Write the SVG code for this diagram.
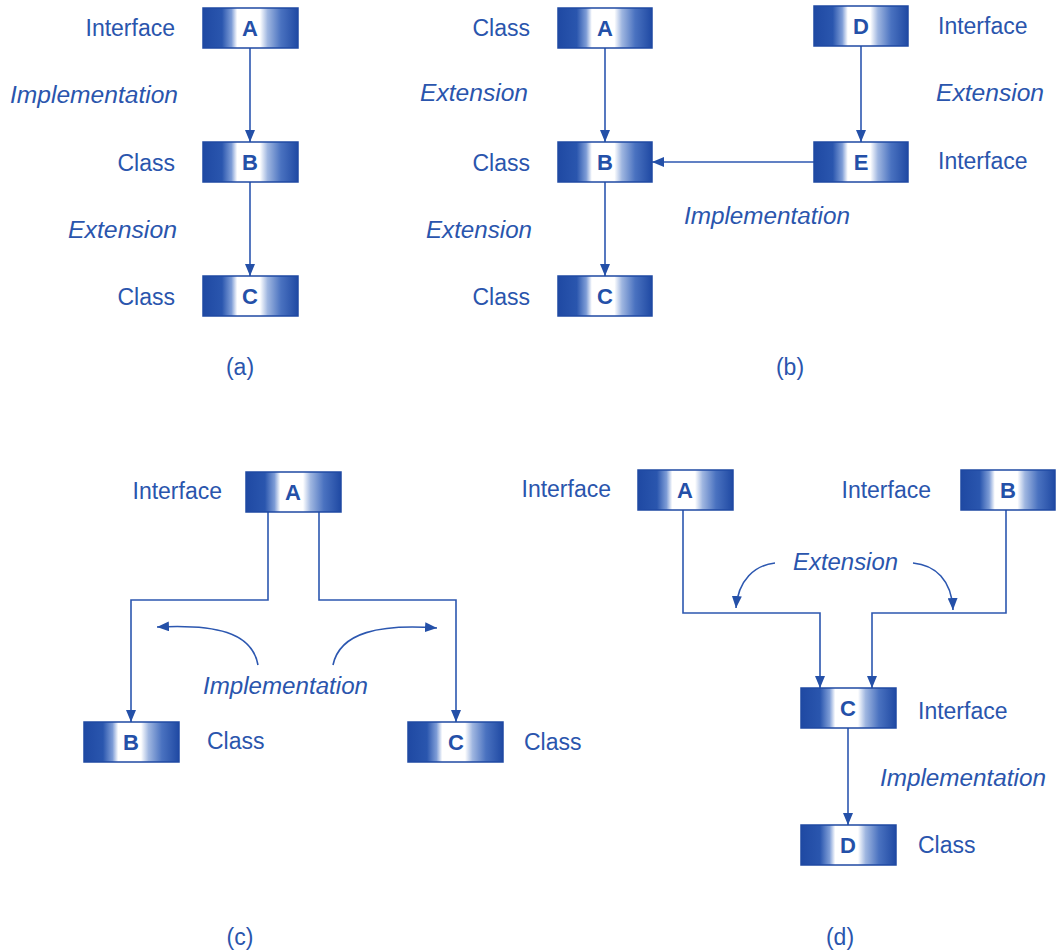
<svg xmlns="http://www.w3.org/2000/svg" width="1056" height="952" viewBox="0 0 1056 952">
<defs>
<linearGradient id="g" x1="0" y1="0" x2="1" y2="0">
<stop offset="0" stop-color="#1f49a3"/>
<stop offset="0.2" stop-color="#2a56ae"/>
<stop offset="0.3" stop-color="#7d9cd6"/>
<stop offset="0.36" stop-color="#ffffff"/>
<stop offset="0.6" stop-color="#ffffff"/>
<stop offset="0.68" stop-color="#9fb6e0"/>
<stop offset="0.82" stop-color="#4a72c0"/>
<stop offset="1" stop-color="#1f49a3"/>
</linearGradient>
<marker id="ah" markerWidth="12" markerHeight="10" refX="12" refY="5" orient="auto" markerUnits="userSpaceOnUse">
<path d="M0,0 L12,5 L0,10 z" fill="#2450a8"/>
</marker>
<style>
.box{fill:url(#g);stroke:#1f49a3;stroke-width:1.5}
.lt{font-family:"Liberation Sans",Arial,sans-serif;font-size:22px;font-weight:bold;fill:#2450a8;text-anchor:middle}
.t{font-family:"Liberation Sans",Arial,sans-serif;font-size:23px;fill:#2a55ad}
.i{font-family:"Liberation Sans",Arial,sans-serif;font-size:23px;font-style:italic;fill:#2a55ad}
.e{text-anchor:end}
.m{text-anchor:middle}
.ca{fill:none;stroke:#2c57b0;stroke-width:1.6;marker-end:url(#ah)}
</style>
</defs>
<rect width="1056" height="952" fill="#ffffff"/>

<g id="connectors">
<line class="ca" x1="250" y1="48" x2="250" y2="142"/>
<line class="ca" x1="250" y1="182" x2="250" y2="276"/>
<line class="ca" x1="605" y1="48" x2="605" y2="142"/>
<line class="ca" x1="605" y1="182" x2="605" y2="276"/>
<line class="ca" x1="861" y1="46" x2="861" y2="142"/>
<line class="ca" x1="814" y1="162" x2="652" y2="162"/>
<path class="ca" d="M268 512 V600 H131 V722"/>
<path class="ca" d="M319 512 V600 H456 V722"/>
<path class="ca" d="M258 665 C 252 632, 215 624, 157 627"/>
<path class="ca" d="M333 665 C 340 632, 380 624, 437 628"/>
<path class="ca" d="M683 510 V613 H820 V688"/>
<path class="ca" d="M1006 510 V613 H872 V688"/>
<line class="ca" x1="848" y1="728" x2="848" y2="825"/>
<path class="ca" d="M775 563 C 755 565, 738 580, 736 608"/>
<path class="ca" d="M913 563 C 935 565, 952 580, 953 610"/>
</g>

<g id="a-A"><rect class="box" x="203" y="8" width="95" height="40"/><text class="lt" x="250" y="36">A</text></g>
<g id="a-B"><rect class="box" x="203" y="142" width="95" height="40"/><text class="lt" x="250" y="170">B</text></g>
<g id="a-C"><rect class="box" x="203" y="276" width="95" height="40"/><text class="lt" x="250" y="304">C</text></g>
<g id="a-labels">
<text class="t e" x="175" y="36">Interface</text>
<text class="i" x="10" y="103" textLength="168" lengthAdjust="spacingAndGlyphs">Implementation</text>
<text class="t e" x="175" y="171">Class</text>
<text class="i" x="68" y="238" textLength="109" lengthAdjust="spacingAndGlyphs">Extension</text>
<text class="t e" x="175" y="305">Class</text>
<text class="t m" x="240" y="375">(a)</text>
</g>

<g id="b-A"><rect class="box" x="558" y="8" width="94" height="40"/><text class="lt" x="605" y="36">A</text></g>
<g id="b-B"><rect class="box" x="558" y="142" width="94" height="40"/><text class="lt" x="605" y="170">B</text></g>
<g id="b-C"><rect class="box" x="558" y="276" width="94" height="40"/><text class="lt" x="605" y="304">C</text></g>
<g id="b-D"><rect class="box" x="814" y="6" width="94" height="40"/><text class="lt" x="861" y="34">D</text></g>
<g id="b-E"><rect class="box" x="814" y="142" width="94" height="40"/><text class="lt" x="861" y="170">E</text></g>
<g id="b-labels">
<text class="t e" x="530" y="36">Class</text>
<text class="i" x="420" y="101" textLength="108" lengthAdjust="spacingAndGlyphs">Extension</text>
<text class="t e" x="530" y="171">Class</text>
<text class="i" x="426" y="238" textLength="106" lengthAdjust="spacingAndGlyphs">Extension</text>
<text class="t e" x="530" y="305">Class</text>
<text class="t" x="938" y="34">Interface</text>
<text class="i" x="936" y="101" textLength="108" lengthAdjust="spacingAndGlyphs">Extension</text>
<text class="t" x="938" y="169">Interface</text>
<text class="i" x="684" y="224" textLength="166" lengthAdjust="spacingAndGlyphs">Implementation</text>
<text class="t m" x="790" y="375">(b)</text>
</g>

<g id="c-A"><rect class="box" x="246" y="472" width="95" height="40"/><text class="lt" x="293" y="500">A</text></g>
<g id="c-B"><rect class="box" x="84" y="722" width="95" height="40"/><text class="lt" x="131" y="750">B</text></g>
<g id="c-C"><rect class="box" x="408" y="722" width="95" height="40"/><text class="lt" x="456" y="750">C</text></g>
<g id="c-labels">
<text class="t e" x="222" y="499">Interface</text>
<text class="t" x="207" y="749">Class</text>
<text class="t" x="524" y="750">Class</text>
<text class="i" x="203" y="694" textLength="165" lengthAdjust="spacingAndGlyphs">Implementation</text>
<text class="t m" x="240" y="945">(c)</text>
</g>

<g id="d-A"><rect class="box" x="638" y="470" width="95" height="40"/><text class="lt" x="685" y="498">A</text></g>
<g id="d-B"><rect class="box" x="961" y="470" width="94" height="40"/><text class="lt" x="1008" y="498">B</text></g>
<g id="d-C"><rect class="box" x="801" y="688" width="95" height="40"/><text class="lt" x="848" y="716">C</text></g>
<g id="d-D"><rect class="box" x="801" y="825" width="95" height="40"/><text class="lt" x="848" y="853">D</text></g>
<g id="d-labels">
<text class="t e" x="611" y="497">Interface</text>
<text class="t e" x="931" y="498">Interface</text>
<text class="i" x="793" y="570" textLength="105" lengthAdjust="spacingAndGlyphs">Extension</text>
<text class="t" x="918" y="719">Interface</text>
<text class="i" x="880" y="786" textLength="166" lengthAdjust="spacingAndGlyphs">Implementation</text>
<text class="t" x="918" y="853">Class</text>
<text class="t m" x="840" y="945">(d)</text>
</g>
</svg>
